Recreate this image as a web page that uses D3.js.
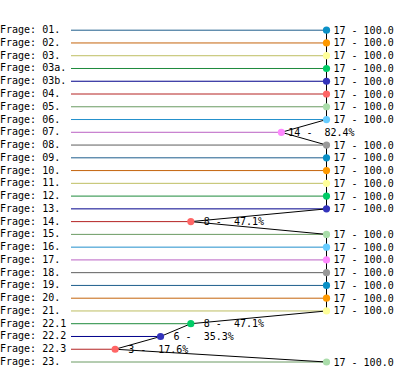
<!DOCTYPE html>
<html>
<head>
<meta charset="utf-8">
<script src="https://cdn.jsdelivr.net/npm/d3@7"></script>
<style>
  html, body { margin: 0; padding: 0; background: #fff; }
  svg { display: block; }
  text { font-family: "DejaVu Sans Mono", monospace; font-size: 10px; fill: #000; white-space: pre; }
</style>
</head>
<body>
<svg id="chart"></svg>
<script>
// questions, answer counts and percentages
const questions = ['01.', '02.', '03.', '03a.', '03b.', '04.', '05.', '06.', '07.', '08.',
  '09.', '10.', '11.', '12.', '13.', '14.', '15.', '16.', '17.', '18.', '19.', '20.', '21.',
  '22.1', '22.2', '22.3', '23.'];
const counts = [17, 17, 17, 17, 17, 17, 17, 17, 14, 17,
  17, 17, 17, 17, 17, 8, 17, 17, 17, 17, 17, 17, 17,
  8, 6, 3, 17];
const percents = [100, 100, 100, 100, 100, 100, 100, 100, 82.4, 100,
  100, 100, 100, 100, 100, 47.1, 100, 100, 100, 100, 100, 100, 100,
  47.1, 35.3, 17.6, 100];

const lineColors = ['#1d5d8c', '#c4640c', '#bebe62', '#1e8a3c', '#00008b',
  '#b42222', '#6a9a62', '#2290cc', '#ba62c4', '#5e5e5e'];
const dotColors = ['#0a90c6', '#ff9900', '#ffff99', '#00cc66', '#3333bb',
  '#ff6666', '#aaddaa', '#66ccff', '#ff88ff', '#999999'];

const width = 394;
const height = 373;

const data = questions.map((q, i) => ({
  q: q,
  n: counts[i],
  pct: percents[i],
  i: i
}));

const svg = d3.select('#chart')
  .attr('width', width)
  .attr('height', height);

const x = d3.scaleLinear().domain([0, 100]).range([70, 326.5]);
const y = d3.scalePoint().domain(questions).range([29.7, 361.5]);

// question names
svg.selectAll('text.q')
  .data(data)
  .enter()
  .append('text')
  .attr('class', 'q')
  .attr('x', 0)
  .attr('y', d => y(d.q) + 3.5)
  .text(d => 'Frage: ' + d.q);

// coloured bar lines
svg.selectAll('line.bar')
  .data(data)
  .enter()
  .append('line')
  .attr('x1', 71)
  .attr('x2', d => x(d.pct))
  .attr('y1', d => y(d.q) + 0.5)
  .attr('y2', d => y(d.q) + 0.5)
  .attr('stroke', d => lineColors[d.i % 10])
  .attr('stroke-width', 1);

// black line through all points
const line = d3.line()
  .x(d => x(d.pct))
  .y(d => y(d.q) + 0.5);

svg.append('path')
  .datum(data)
  .attr('d', line)
  .attr('fill', 'none')
  .attr('stroke', '#000')
  .attr('stroke-width', 1);

// dots
svg.selectAll('circle')
  .data(data)
  .enter()
  .append('circle')
  .attr('cx', d => x(d.pct))
  .attr('cy', d => y(d.q) + 0.5)
  .attr('r', 3.6)
  .attr('fill', d => dotColors[d.i % 10]);

// value labels, trimmed at the right edge like the original
const fmtPct = d3.format('5.1f');
svg.selectAll('text.val')
  .data(data)
  .enter()
  .append('text')
  .attr('class', 'val')
  .attr('x', d => x(d.pct) + 7)
  .attr('y', d => y(d.q) + 4)
  .text(d => String(d.n).padStart(2, ' ') + ' - ' + fmtPct(d.pct).padStart(5, ' ') + '%')
  .each(function(d) {
    const el = d3.select(this);
    let s = el.text();
    while (s.length > 1 && x(d.pct) + 7 + this.getComputedTextLength() > width) {
      s = s.slice(0, -1);
      el.text(s);
    }
  });
</script>
</body>
</html>
